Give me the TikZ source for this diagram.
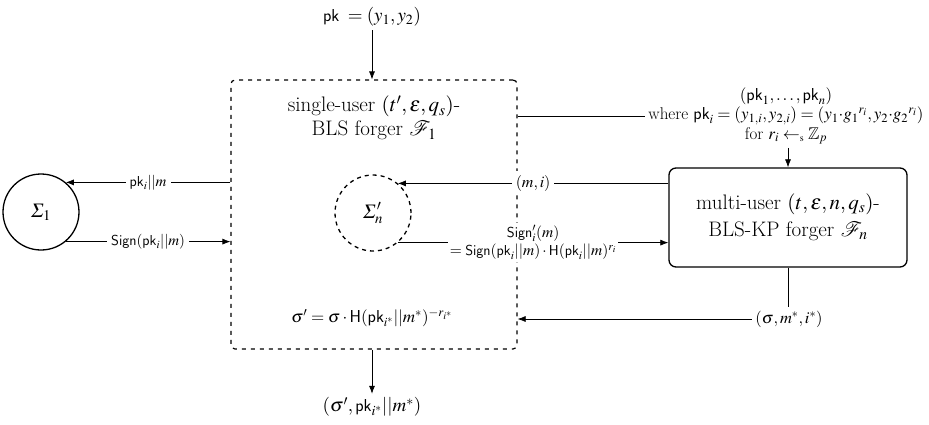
\documentclass[tikz,border=0pt]{standalone}
\usepackage{mathptmx}
\usepackage{amssymb}
\usepackage{mathrsfs}
\usetikzlibrary{arrows.meta,calc}
\DeclareMathSymbol{\mySigma}{\mathord}{letters}{"06}
\tikzset{
  arr/.style={-{Latex[length=8pt,width=6pt]}, line width=0.7pt},
  ln/.style={line width=0.7pt},
  lbl/.style={fill=white, inner sep=4pt, font=\fontsize{15}{18}\selectfont, align=center},
  big/.style={font=\fontsize{19}{22}\selectfont, align=center},
  boxtext/.style={font=\fontsize{21}{25}\selectfont, align=center},
}
\begin{document}
\begin{tikzpicture}[x=1pt,y=-1pt]
\useasboundingbox (0,0) rectangle (929,424);
\node[draw, dash pattern=on 4pt off 5pt, line width=1.2pt, rounded corners=4pt, minimum width=286pt, minimum height=269pt, inner sep=0pt] (F1) at (374,214.5) {};
\node[boxtext, font=\fontsize{21}{24}\selectfont] (T1) at (374,118) {single-user $(t',\varepsilon,q_s)$-\\BLS forger $\mathscr{F}_1$};
\node[draw, circle, line width=1.3pt, minimum size=76pt, inner sep=0pt, font=\fontsize{20}{24}\selectfont] (S1) at (41,212) {$\mySigma_1$};
\node[draw, circle, dash pattern=on 4pt off 4pt, line width=1.3pt, minimum size=76pt, inner sep=0pt, font=\fontsize{20}{24}\selectfont] (Sn) at (373,213) {$\mySigma'_n$};
\node[draw, rounded corners=7pt, line width=1.3pt, minimum width=238pt, minimum height=99pt, boxtext, font=\fontsize{21}{27}\selectfont] (M) at (788,217.5) {multi-user $(t,\varepsilon,n,q_s)$-\\BLS-KP forger $\mathscr{F}_n$};
\node[big] (pk) at (372,17) {$\mathsf{pk}\;=(y_1,y_2)$};
\node[big] (out) at (372,407) {$(\sigma',\mathsf{pk}_{i^*}||m^*)$};
\node[font=\fontsize{17}{19.5}\selectfont, align=center] (R) at (786,116) {$(\mathsf{pk}_1,\ldots,\mathsf{pk}_n)$\\where $\mathsf{pk}_i=(y_{1,i},y_{2,i})=(y_1{\cdot}{g_1}^{r_i},y_2{\cdot}{g_2}^{r_i})$\\for $r_i \leftarrow_{\scriptscriptstyle\mathrm{s}}\mathbb{Z}_p$};
\node[font=\fontsize{16.5}{19}\selectfont] (sig) at (789,319) {$(\sigma,m^*,i^*)$};
\node[font=\fontsize{17}{20}\selectfont] (sp) at (372,318) {$\sigma'=\sigma\cdot\mathsf{H}(\mathsf{pk}_{i^*}||m^*)^{-r_{i^*}}$};
% connectors
\draw[arr] (pk) -- (pk |- F1.north);
\draw[arr] (F1.south -| out) -- (out);
\draw[arr] (F1.west |- S1.50) -- node[lbl]{$\mathsf{pk}_i||m$} (S1.50);
\draw[arr] (S1.-50) -- node[lbl]{$\mathsf{Sign}(\mathsf{pk}_i||m)$} (F1.west |- S1.-50);
\draw[arr] (M.west |- Sn.50) -- node[lbl, font=\fontsize{16}{19}\selectfont]{$(m,i)$} (Sn.50);
\draw[arr] (Sn.-50) -- node[lbl, inner sep=2pt, font=\fontsize{15.5}{18.5}\selectfont]{$\mathsf{Sign}'_i(m)$\\$=\mathsf{Sign}(\mathsf{pk}_i||m)\cdot\mathsf{H}(\mathsf{pk}_i||m)^{r_i}$} (M.west |- Sn.-50);
\draw[ln] (F1.east |- R.west) -- (R.west);
\draw[arr] (R.south -| M.north) -- (M.north);
\draw[ln] (M.south) -- (M.south |- sig.north);
\draw[arr] (sig.west) -- (F1.east |- sig.west);
\end{tikzpicture}
\end{document}
